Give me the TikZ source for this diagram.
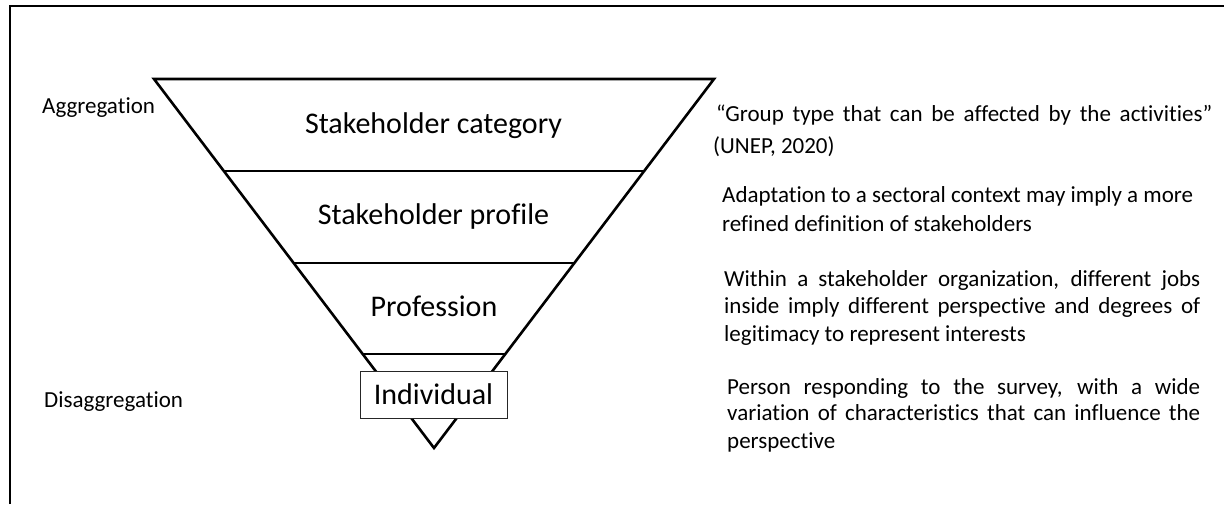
\documentclass[tikz,border=0pt]{standalone}
\usepackage{fontspec}
\setmainfont{Carlito}[Ligatures=NoCommon]
\usetikzlibrary{calc}
\begin{document}
\begin{tikzpicture}[x=1pt,y=1pt,
  frameline/.style={line width=2pt},
  funnel/.style={line width=2.6pt, line join=miter},
  divider/.style={line width=2.6pt},
  lvl/.style={font=\fontsize{30}{36}\selectfont, inner sep=0pt, anchor=base},
  side/.style={font=\fontsize{23}{27}\selectfont, inner sep=0pt, anchor=base west},
  desc/.style={font=\fontsize{23}{27}\selectfont, inner sep=0pt, anchor=base west},
  indbox/.style={draw=black!85, line width=1pt, fill=white, minimum width=147pt, minimum height=47pt, inner sep=0pt, font=\fontsize{30}{36}\selectfont},
]
\useasboundingbox (0,0) rectangle (1224,504);
% frame
\coordinate (fb) at (9.5,0);
\coordinate (fc) at (9.5,497.5);
\coordinate (fr) at (1224,497.5);
\draw[frameline] (fb) -- (fc) -- (fr);
% funnel
\coordinate (tl) at (154,425);
\coordinate (tr) at (714,425);
\coordinate (ap) at (434,56);
\draw[funnel] (tl) -- (tr) -- (ap) -- cycle;
\draw[divider] ($(tl)!0.2493!(ap)$) -- ($(tr)!0.2493!(ap)$);
\draw[divider] ($(tl)!0.4986!(ap)$) -- ($(tr)!0.4986!(ap)$);
\draw[divider] ($(tl)!0.7453!(ap)$) -- ($(tr)!0.7453!(ap)$);
% level labels
\node[lvl] (cat) at (433.5,370) {Stakeholder category};
\node[lvl] (prof) at (433.5,279) {Stakeholder profile};
\node[lvl] (job) at (434,187) {Profession};
\node[indbox] (ind) at (433.5,109.5) {Individual};
% side labels
\node[side] (agg) at (42,390) {Aggregation};
\node[side] (dis) at (44,97) {Disaggregation};
% descriptions
\node[desc] (g1) at (716,382) {\makebox[496pt][s]{“Group type that can be affected by the activities”}};
\node[desc] (g2) at (713,350) {(UNEP, 2020)};
\node[desc] (a1) at (722,301) {Adaptation to a sectoral context may imply a more};
\node[desc] (a2) at (722,272) {refined definition of stakeholders};
\node[desc] (w1) at (724,217) {\makebox[476pt][s]{Within a stakeholder organization, different jobs}};
\node[desc] (w2) at (724,190) {\makebox[476pt][s]{inside imply different perspective and degrees of}};
\node[desc] (w3) at (724,163) {legitimacy to represent interests};
\node[desc] (p1) at (727,110) {\makebox[473pt][s]{Person responding to the survey, with a wide}};
\node[desc] (p2) at (727,84) {\makebox[473pt][s]{variation of characteristics that can influence the}};
\node[desc] (p3) at (727,56) {perspective};
\end{tikzpicture}
\end{document}
